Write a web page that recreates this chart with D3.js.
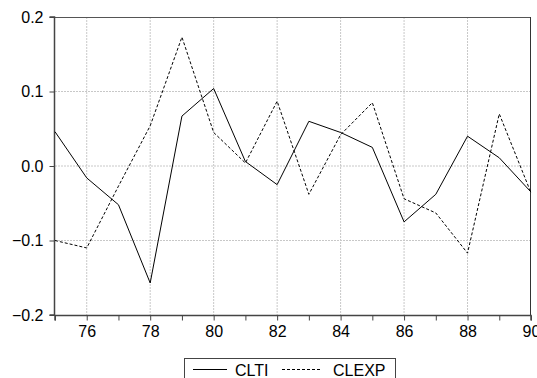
<!DOCTYPE html>
<html><head><meta charset="utf-8">
<script src="https://cdn.jsdelivr.net/npm/d3@7"></script>
<style>body{margin:0;background:#fff}svg{display:block}</style>
</head><body>
<svg id="c" width="537" height="378"></svg>
<script>
const years = [75,76,77,78,79,80,81,82,83,84,85,86,87,88,89,90];
const clti  = [0.046,-0.016,-0.052,-0.157,0.067,0.104,0.006,-0.025,0.060,0.045,0.025,-0.075,-0.038,0.040,0.011,-0.035];
const clexp = [-0.100,-0.110,-0.027,0.054,0.173,0.045,0.004,0.087,-0.038,0.042,0.085,-0.044,-0.063,-0.117,0.070,-0.036];
const xTicks = [76,78,80,82,84,86,88,90];
const yTicks = [-0.2,-0.1,0.0,0.1,0.2];
const seriesNames = ["CLTI","CLEXP"];

const svg = d3.select("#c");
const L=55, R=531, T=17, B=315;
const x = d3.scaleLinear().domain([75,90]).range([L,R]);
const y = d3.scaleLinear().domain([-0.2,0.2]).range([B,T]);
const font = "'Liberation Sans', Arial, sans-serif";

// grid
svg.append("g").selectAll("line").data(xTicks.filter(d=>d<90)).join("line")
  .attr("x1",d=>x(d)).attr("x2",d=>x(d)).attr("y1",T).attr("y2",B)
  .attr("stroke","#c8c8c8").attr("stroke-dasharray","2,1").attr("stroke-width",1);
svg.append("g").selectAll("line").data([-0.1,0,0.1]).join("line")
  .attr("x1",L).attr("x2",R).attr("y1",d=>y(d)).attr("y2",d=>y(d))
  .attr("stroke","#c8c8c8").attr("stroke-dasharray","2,1").attr("stroke-width",1);

// frame
svg.append("line").attr("x1",L).attr("x2",R).attr("y1",T+0.5).attr("y2",T+0.5).attr("stroke","#555");
svg.append("line").attr("x1",R-0.5).attr("x2",R-0.5).attr("y1",T).attr("y2",B).attr("stroke","#333");

// axes
const yAxis = d3.axisLeft(y).tickValues(yTicks).tickFormat(d3.format(".1f")).tickSize(5).tickPadding(6);
const gy = svg.append("g").attr("transform",`translate(${L-0.5},0)`).call(yAxis);
const xAxis = d3.axisBottom(x).tickValues(d3.range(75,91)).tickFormat(d=>xTicks.includes(d)?d:"").tickSize(5).tickPadding(5);
const gx = svg.append("g").attr("transform",`translate(0,${B+0.5})`).call(xAxis);
[gx,gy].forEach(g=>{
  g.select(".domain").attr("stroke","#444").attr("stroke-width",1.5);
  g.selectAll(".tick line").attr("stroke","#444");
  g.selectAll("text").attr("fill","#000").style("font-family",font).style("font-size","16px");
});
gy.select(".domain").attr("d",`M-5,${B}H0V${T}H-5`);
gx.select(".domain").attr("d",`M${L},5V0H${R}V5`);

// lines
const line = d3.line().x((d,i)=>x(years[i])).y(d=>y(d));
svg.append("path").datum(clti).attr("d",line).attr("fill","none").attr("stroke","#000").attr("stroke-width",1);
svg.append("path").datum(clexp).attr("d",line).attr("fill","none").attr("stroke","#000").attr("stroke-width",1).attr("stroke-dasharray","3,2");

// legend
const lg = svg.append("g");
lg.append("rect").attr("x",184.5).attr("y",358.5).attr("width",211).attr("height",30).attr("fill","#fff").attr("stroke","#444");
lg.append("line").attr("x1",193).attr("x2",227).attr("y1",369.5).attr("y2",369.5).attr("stroke","#000");
lg.append("text").attr("x",235).attr("y",376).text(seriesNames[0]).style("font-family",font).style("font-size","16px");
lg.append("line").attr("x1",282).attr("x2",322).attr("y1",369.5).attr("y2",369.5).attr("stroke","#000").attr("stroke-dasharray","3,2");
lg.append("text").attr("x",333).attr("y",376).text(seriesNames[1]).style("font-family",font).style("font-size","16px");
</script>
</body></html>
